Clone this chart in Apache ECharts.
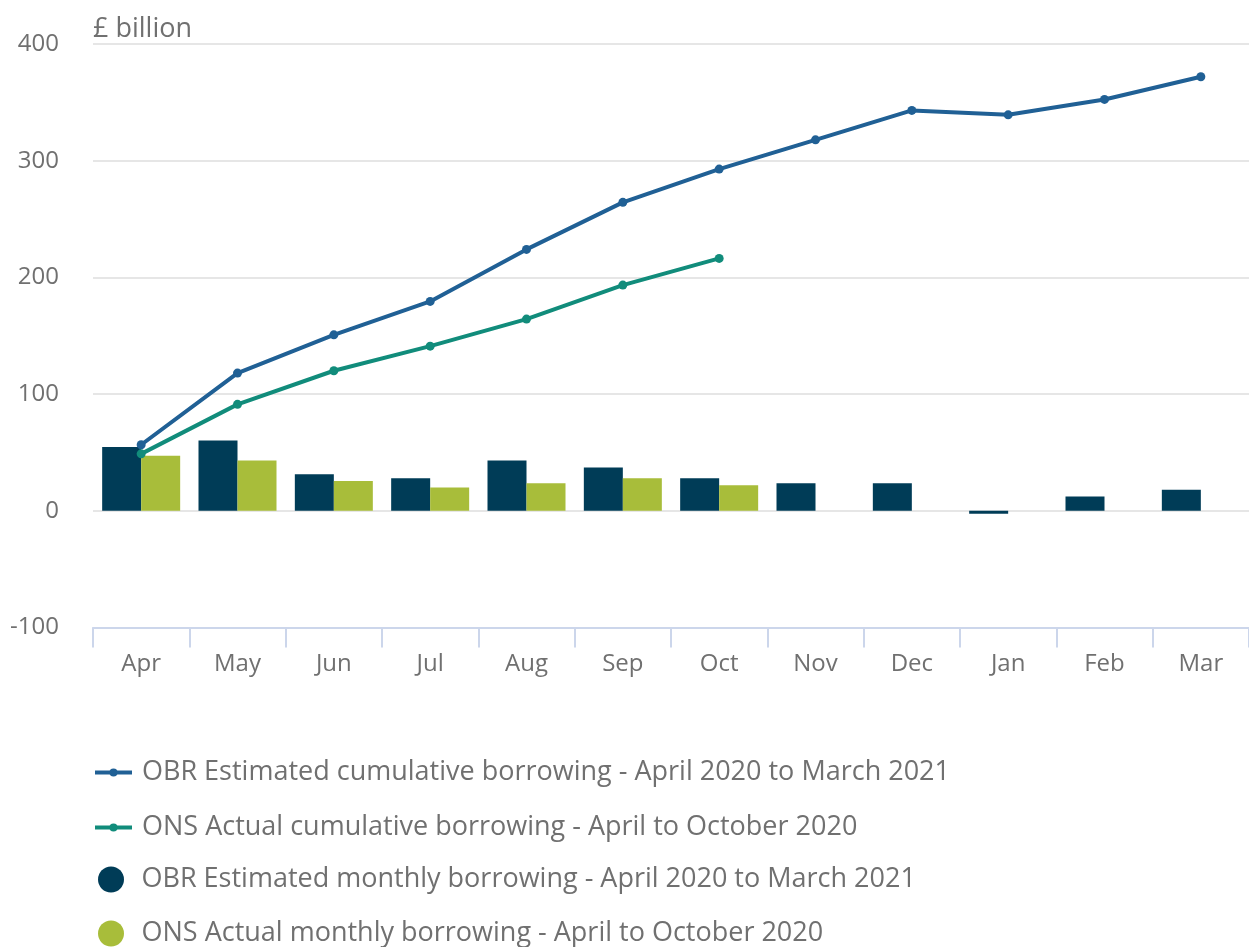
<!DOCTYPE html>
<html>
<head>
<meta charset="utf-8">
<title>Public sector borrowing</title>
<script src="https://cdn.jsdelivr.net/npm/echarts@6/dist/echarts.min.js"></script>
<style>
  html, body { margin: 0; padding: 0; background: #ffffff; }
  #chart { width: 1249px; height: 947px; }
</style>
</head>
<body>
<div id="chart"></div>
<script>
// Months of the financial year
const months = ['Apr', 'May', 'Jun', 'Jul', 'Aug', 'Sep', 'Oct', 'Nov', 'Dec', 'Jan', 'Feb', 'Mar'];

// Cumulative borrowing, £ billion
const obrCumulative = [56.6, 118, 150.8, 179.4, 224, 264.3, 292.8, 317.9, 343.1, 339.3, 352.5, 371.9];
const onsCumulative = [48.8, 91.2, 120, 141.1, 164.3, 193.4, 216.3, null, null, null, null, null];

// Monthly borrowing, £ billion
const obrMonthly = [54.6, 60.3, 31.4, 27.8, 43.2, 37.2, 27.8, 23.7, 23.7, -2.5, 12.3, 18];
const onsMonthly = [47.1, 43.2, 25.5, 20, 23.7, 27.8, 22, null, null, null, null, null];

// Series names
const names = [
  'OBR Estimated cumulative borrowing - April 2020 to March 2021',
  'ONS Actual cumulative borrowing - April to October 2020',
  'OBR Estimated monthly borrowing - April 2020 to March 2021',
  'ONS Actual monthly borrowing - April to October 2020'
];

// Value axis ticks
const yMin = -100, yMax = 400, yStep = 100;

const FONT = '"Open Sans", "Noto Sans", sans-serif';
const TEXT = '#707070';

const chart = echarts.init(document.getElementById('chart'), null, { renderer: 'canvas' });

function legendText(padLeft) {
  return {
    fontFamily: FONT,
    fontSize: 27,
    color: TEXT,
    lineHeight: 26,
    padding: [0, 0, 0, padLeft]
  };
}

chart.setOption({
  animation: false,
  backgroundColor: '#ffffff',
  textStyle: { fontFamily: FONT },
  grid: { left: 93, top: 44, width: 1160, height: 583.5, containLabel: false },
  legend: [
    {
      data: [names[0], names[1]],
      orient: 'vertical',
      left: 93,
      top: 759,
      padding: 0,
      itemWidth: 37,
      itemHeight: 10,
      itemGap: 28,
      selectedMode: false,
      lineStyle: { width: 4 },
      textStyle: legendText(5)
    },
    {
      data: [names[2], names[3]],
      orient: 'vertical',
      left: 98,
      top: 866,
      padding: 0,
      itemWidth: 37,
      itemHeight: 26,
      itemGap: 27,
      icon: 'circle',
      selectedMode: false,
      textStyle: legendText(7)
    }
  ],
  xAxis: {
    type: 'category',
    data: months,
    boundaryGap: true,
    axisLine: { onZero: false, lineStyle: { color: '#ccd6eb', width: 2 } },
    axisTick: { show: true, length: 20, lineStyle: { color: '#ccd6eb', width: 2 } },
    axisLabel: { color: TEXT, fontSize: 24, fontFamily: FONT, margin: 25 },
    splitLine: { show: false }
  },
  yAxis: {
    type: 'value',
    min: yMin,
    max: yMax,
    interval: yStep,
    name: '£ billion',
    nameLocation: 'end',
    nameGap: 15,
    nameTextStyle: { color: TEXT, fontSize: 27, fontFamily: FONT, align: 'left', verticalAlign: 'middle' },
    axisLine: { show: false },
    axisTick: { show: false },
    axisLabel: { color: TEXT, fontSize: 24, fontFamily: FONT, margin: 34 },
    splitLine: { lineStyle: { color: '#e6e6e6', width: 2 } }
  },
  series: [
    {
      name: names[0],
      type: 'line',
      data: obrCumulative,
      z: 5,
      symbol: 'circle',
      symbolSize: 9,
      showSymbol: true,
      lineStyle: { color: '#206095', width: 4 },
      itemStyle: { color: '#206095' }
    },
    {
      name: names[1],
      type: 'line',
      data: onsCumulative,
      z: 5,
      symbol: 'circle',
      symbolSize: 9,
      showSymbol: true,
      lineStyle: { color: '#118c7b', width: 4 },
      itemStyle: { color: '#118c7b' }
    },
    {
      name: names[2],
      type: 'bar',
      data: obrMonthly,
      barWidth: 39,
      barGap: '0%',
      z: 2,
      itemStyle: { color: '#003c57' }
    },
    {
      name: names[3],
      type: 'bar',
      data: onsMonthly,
      barWidth: 39,
      barGap: '0%',
      z: 2,
      itemStyle: { color: '#a8bd3a' }
    }
  ]
});
</script>
</body>
</html>
